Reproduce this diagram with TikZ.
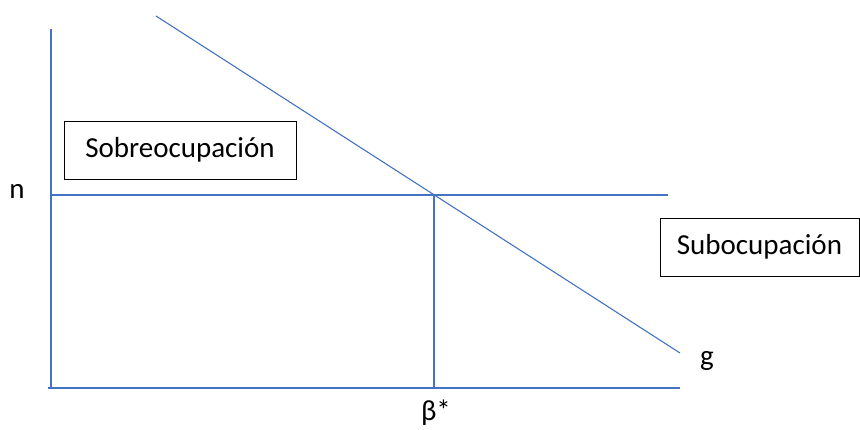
\documentclass[tikz,border=0pt]{standalone}
\usepackage{fontspec}
\setmainfont{Carlito}
\begin{document}
\begin{tikzpicture}[x=1pt,y=-1pt,
  axisline/.style={draw={rgb,255:red,68;green,114;blue,196}, line width=1.1pt},
  labelbox/.style={draw=black, line width=0.9pt, inner sep=0pt, font=\fontsize{29}{32}\selectfont},
  axislabel/.style={inner sep=0pt, font=\fontsize{29}{32}\selectfont}]
\useasboundingbox (0,0) rectangle (860,430);
% coordinates
\coordinate (ytop) at (51,29);
\coordinate (origin) at (51,388);
\coordinate (xend) at (680,388);
\coordinate (nleft) at (51,195);
\coordinate (nright) at (668,195);
\coordinate (gstart) at (156,16);
\coordinate (gend) at (680,353);
\coordinate (bstar) at (434,195);
\coordinate (bbase) at (434,388);
% lines
\draw[axisline] (ytop) -- (origin);
\draw[axisline] (48,388) -- (xend);
\draw[axisline] (nleft) -- (nright);
\draw[axisline] (gstart) -- (gend);
\draw[axisline] (bstar) -- (bbase);
% boxes
\node[labelbox, minimum width=232pt, minimum height=58pt] (sobre) at (180,150) {Sobreocupación};
\node[labelbox, minimum width=199pt, minimum height=58pt] (sub) at (759.5,247) {Subocupación};
% labels
\node[axislabel] (nlab) at (17,191) {n};
\node[axislabel] (glab) at (707,361) {g};
\node[axislabel] (blab) at (436,413) {β*};
\end{tikzpicture}
\end{document}
